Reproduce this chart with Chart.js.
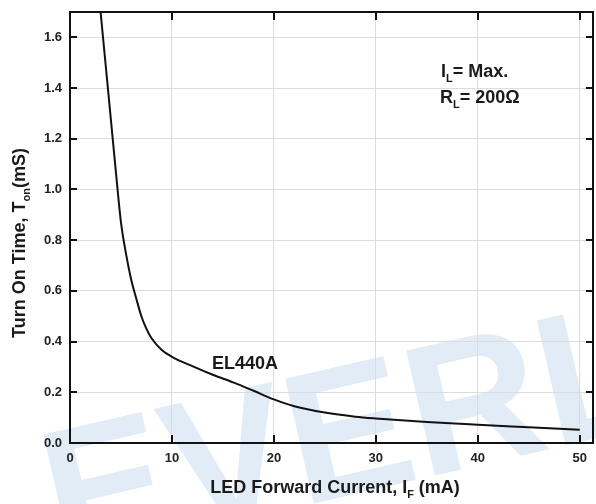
<!DOCTYPE html>
<html>
<head>
<meta charset="utf-8">
<script src="https://cdn.jsdelivr.net/npm/chart.js@4"></script>
<style>
  html, body { margin: 0; padding: 0; background: #fff; }
  canvas { display: block; }
</style>
</head>
<body>
<canvas id="chart1" width="596" height="504"></canvas>
<script>
// EL440A turn on time vs LED forward current
const currentMA = [3, 3.5, 4, 4.5, 5, 5.5, 6, 6.5, 7, 7.5, 8, 9, 10, 12, 14, 16, 18, 20, 22, 25, 28, 30, 35, 40, 45, 50];
const turnOnMs = [1.70, 1.49, 1.28, 1.07, 0.87, 0.745, 0.645, 0.57, 0.50, 0.45, 0.413, 0.367, 0.34, 0.303, 0.269, 0.239, 0.206, 0.172, 0.145, 0.12, 0.104, 0.097, 0.083, 0.072, 0.062, 0.052];
const xTicks = [0, 10, 20, 30, 40, 50];
const yTicks = [0, 0.2, 0.4, 0.6, 0.8, 1.0, 1.2, 1.4, 1.6];
const curveLabel = "EL440A";

const boldFont = (size) => "bold " + size + "px 'Liberation Sans', Arial, sans-serif";

// text with a subscript part: [main, sub, rest]
function subText(ctx, x, y, parts, size, align) {
  ctx.font = boldFont(size);
  const w1 = ctx.measureText(parts[0]).width;
  const w3 = ctx.measureText(parts[2]).width;
  ctx.font = boldFont(Math.round(size * 0.6));
  const w2 = ctx.measureText(parts[1]).width;
  let x0 = x;
  if (align === "center") x0 = x - (w1 + w2 + w3) / 2;
  ctx.textAlign = "left";
  ctx.textBaseline = "alphabetic";
  ctx.font = boldFont(size);
  ctx.fillText(parts[0], x0, y);
  ctx.font = boldFont(Math.round(size * 0.6));
  ctx.fillText(parts[1], x0 + w1, y + size * 0.3);
  ctx.font = boldFont(size);
  ctx.fillText(parts[2], x0 + w1 + w2, y);
}

const watermark = {
  id: "watermark",
  beforeDraw(chart) {
    const ctx = chart.ctx;
    ctx.save();
    ctx.fillStyle = "#fff";
    ctx.fillRect(0, 0, chart.width, chart.height);
    ctx.translate(60, 562);
    ctx.rotate(-0.227);
    ctx.font = boldFont(186);
    ctx.fillStyle = "#e2ecf7";
    ctx.fillText("EVERL", 0, 0);
    ctx.restore();
  },
};

const frame = {
  id: "frame",
  afterDraw(chart) {
    const ctx = chart.ctx;
    const a = chart.chartArea;
    const xs = chart.scales.x;
    const ys = chart.scales.y;
    ctx.save();
    ctx.strokeStyle = "#111";
    ctx.lineWidth = 2;
    ctx.beginPath();
    ctx.moveTo(a.left, a.top);
    ctx.lineTo(a.right, a.top);
    ctx.lineTo(a.right, a.bottom);
    // inward ticks on all four sides
    xTicks.slice(1).forEach((v) => {
      const px = Math.round(xs.getPixelForValue(v));
      ctx.moveTo(px, a.bottom);
      ctx.lineTo(px, a.bottom - 8);
      ctx.moveTo(px, a.top);
      ctx.lineTo(px, a.top + 8);
    });
    yTicks.slice(1).forEach((v) => {
      const py = Math.round(ys.getPixelForValue(v));
      ctx.moveTo(a.left, py);
      ctx.lineTo(a.left + 7, py);
      ctx.moveTo(a.right, py);
      ctx.lineTo(a.right - 7, py);
    });
    ctx.stroke();

    ctx.fillStyle = "#1a1a1a";
    // curve label
    ctx.font = boldFont(18);
    ctx.textAlign = "left";
    ctx.fillText(curveLabel, 212, 369);
    // conditions
    subText(ctx, 441, 77, ["I", "L", "= Max."], 18, "left");
    subText(ctx, 440, 103, ["R", "L", "= 200\u03A9"], 18, "left");

    // axis titles
    subText(ctx, 335, 493, ["LED Forward Current, I", "F", " (mA)"], 18, "center");
    ctx.save();
    ctx.translate(25, 243);
    ctx.rotate(-Math.PI / 2);
    subText(ctx, 0, 0, ["Turn On Time, T", "on", "(mS)"], 18, "center");
    ctx.restore();
    ctx.restore();
  },
};

new Chart(document.getElementById("chart1").getContext("2d"), {
  type: "line",
  data: {
    datasets: [
      {
        label: curveLabel,
        data: currentMA.map((x, i) => ({ x: x, y: turnOnMs[i] })),
        borderColor: "#111",
        borderWidth: 2,
        pointRadius: 0,
        cubicInterpolationMode: "monotone",
        fill: false,
      },
    ],
  },
  options: {
    responsive: false,
    animation: false,
    devicePixelRatio: 1,
    layout: { padding: { top: 12, right: 3, left: 0, bottom: 0 } },
    plugins: { legend: { display: false }, tooltip: { enabled: false } },
    scales: {
      x: {
        type: "linear",
        min: 0,
        max: 51.3,
        afterBuildTicks: (scale) => { scale.ticks = xTicks.map((v) => ({ value: v })); },
        afterFit: (scale) => { scale.height = 61; scale.paddingLeft = 0; scale.paddingRight = 0; },
        grid: { color: "#dcdcdc", lineWidth: 1, drawTicks: false },
        border: { color: "#111", width: 2 },
        ticks: { color: "#222", font: { family: "'Liberation Sans', Arial", size: 13, weight: "bold" }, padding: 8, maxRotation: 0 },
      },
      y: {
        min: 0,
        max: 1.7,
        afterBuildTicks: (scale) => { scale.ticks = yTicks.map((v) => ({ value: v })); },
        afterFit: (scale) => { scale.width = 70; scale.paddingTop = 0; scale.paddingBottom = 0; },
        grid: { color: "#dcdcdc", lineWidth: 1, drawTicks: false },
        border: { color: "#111", width: 2 },
        ticks: {
          color: "#222",
          font: { family: "'Liberation Sans', Arial", size: 13, weight: "bold" },
          padding: 8,
          callback: (v) => v.toFixed(1),
        },
      },
    },
  },
  plugins: [watermark, frame],
});
</script>
</body>
</html>
